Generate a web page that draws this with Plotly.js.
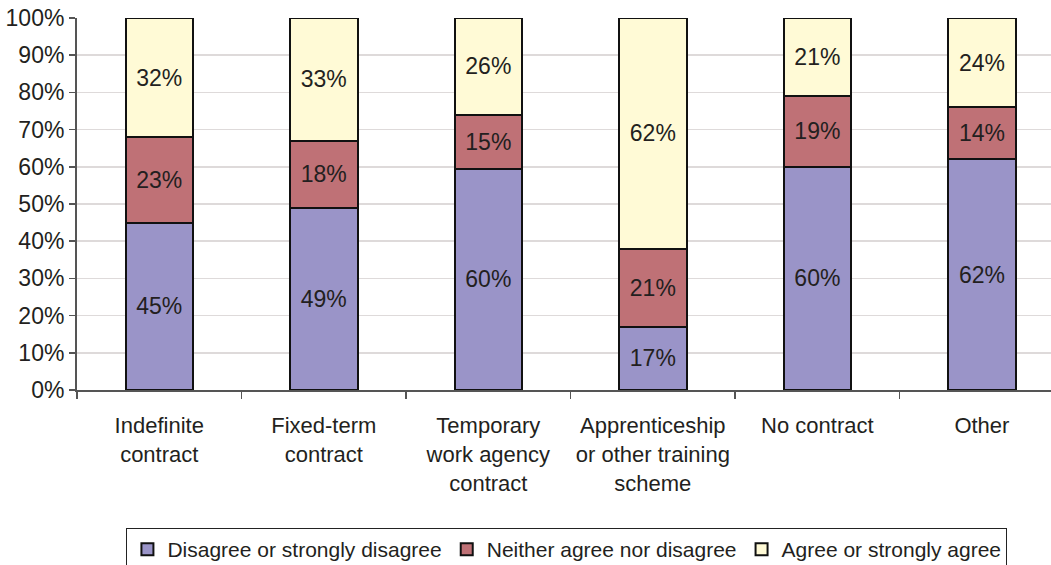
<!DOCTYPE html>
<html>
<head>
<meta charset="utf-8">
<script src="https://cdn.plot.ly/plotly-3.0.1.min.js"></script>
<style>html,body{margin:0;padding:0;background:#fff;overflow:hidden;}#chart{width:1051px;height:580px;}</style>
</head>
<body>
<div id="chart"></div>
<script>
const categories = ["Indefinite<br>contract", "Fixed-term<br>contract", "Temporary<br>work agency<br>contract", "Apprenticeship<br>or other training<br>scheme", "No contract", "Other"];
const seriesNames = ["Disagree or strongly disagree", "Neither agree nor disagree", "Agree or strongly agree"];
const disagree = [45, 49, 59.5, 17, 60, 62];
const neither = [23, 18, 14.5, 21, 19, 14];
const agree = [32, 33, 26, 62, 21, 24];
const disagreeLabels = ["45%", "49%", "60%", "17%", "60%", "62%"];
const neitherLabels = ["23%", "18%", "15%", "21%", "19%", "14%"];
const agreeLabels = ["32%", "33%", "26%", "62%", "21%", "24%"];
const colors = ["#9A94C8", "#BF7176", "#FFFAD6"];
const yTicks = [0,10,20,30,40,50,60,70,80,90,100];
const yTickLabels = ["0%","10%","20%","30%","40%","50%","60%","70%","80%","90%","100%"];

function mk(name, vals, labels, color){
  return {
    type: 'bar', name: name, x: categories, y: vals,
    text: labels, textposition: 'inside', insidetextanchor: 'middle',
    textangle: 0, constraintext: 'none',
    textfont: {family: 'Liberation Sans, Arial, sans-serif', size: 23, color: '#231F20'},
    marker: {color: color, line: {color: '#111111', width: 2}},
    width: 0.41, hoverinfo: 'none'
  };
}
const data = [
  mk(seriesNames[0], disagree, disagreeLabels, colors[0]),
  mk(seriesNames[1], neither, neitherLabels, colors[1]),
  mk(seriesNames[2], agree, agreeLabels, colors[2])
];
const layout = {
  width: 1051, height: 580,
  margin: {l: 77, r: 0, t: 18, b: 190},
  barmode: 'stack',
  paper_bgcolor: '#fff', plot_bgcolor: '#fff',
  font: {family: 'Liberation Sans, Arial, sans-serif', size: 22, color: '#231F20'},
  showlegend: true,
  legend: {
    orientation: 'h', x: 0.503, xanchor: 'center', y: -0.371, yanchor: 'top',
    bordercolor: '#222', borderwidth: 1, bgcolor: '#fff',
    font: {size: 21, color: '#231F20'}, traceorder: 'normal',
    itemwidth: 30, tracegroupgap: 0
  },
  xaxis: {
    type: 'category', range: [-0.5, 5.42], automargin: false,
    showline: true, linecolor: '#555', linewidth: 2,
    ticks: 'outside', tickson: 'boundaries', ticklen: 7, tickcolor: '#555', tickwidth: 1.5,
    showgrid: false, ticklabelstandoff: 15,
    tickfont: {size: 22, color: '#231F20'}
  },
  yaxis: {
    range: [0, 100], tickmode: 'array', tickvals: yTicks, ticktext: yTickLabels,
    automargin: false,
    showline: true, linecolor: '#555', linewidth: 2,
    ticks: 'outside', ticklen: 6, tickcolor: '#555', tickwidth: 1.5,
    gridcolor: '#DEDADA', gridwidth: 1.5, zeroline: false,
    tickfont: {size: 23, color: '#231F20'}, fixedrange: true
  }
};
Plotly.newPlot('chart', data, layout, {staticPlot: true, displayModeBar: false});
</script>
</body>
</html>
